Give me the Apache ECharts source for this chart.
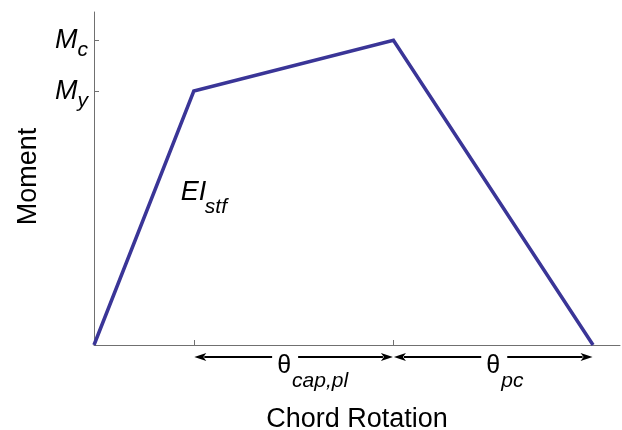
<!DOCTYPE html>
<html>
<head>
<meta charset="utf-8">
<script src="https://cdn.jsdelivr.net/npm/echarts@6/dist/echarts.min.js"></script>
<style>
html,body{margin:0;padding:0;background:#fff;}
#chart{width:622px;height:430px;}
</style>
</head>
<body>
<div id="chart"></div>
<script>
// Data (normalized units)
const rotationValues = [0, 1, 3, 5];          // chord rotation at key points
const momentValues   = [0, 1, 1.2, 0];        // moment at key points
const yTickValues    = [1, 1.2];              // My, Mc
const yTickSubs      = {1: 'y', 1.2: 'c'};
const xTickValues    = [1, 3];
const xAxisMax = 5.27;
const yAxisMax = 1.311;
// Annotations: [start, end, subscript]
const spanAnnotations = [
  [1, 3, 'cap,pl'],
  [3, 5, 'pc']
];
const stiffLabel = {x: 0.87, y: 0.60, main: 'EI', sub: 'stf'};

// Style / placement constants
const labelOffsets = [-9.5, 0];   // horizontal shift of the theta labels (px)
const FONT = '"Liberation Sans", Arial, Helvetica, sans-serif';
const LINE_COLOR = '#3a3597';
const AXIS_COLOR = '#707070';

const chart = echarts.init(document.getElementById('chart'), null, {renderer: 'canvas'});

const option = {
  animation: false,
  backgroundColor: '#ffffff',
  grid: {left: 94, right: 2, top: 12, bottom: 85, containLabel: false, outerBoundsMode: 'none'},
  xAxis: {
    type: 'value', min: 0, max: xAxisMax,
    name: 'Chord Rotation', nameLocation: 'middle', nameGap: 61,
    nameTextStyle: {fontFamily: FONT, fontSize: 27, color: '#000'},
    axisLine: {show: true, lineStyle: {color: AXIS_COLOR, width: 1}},
    axisTick: {show: true, inside: true, length: 5, customValues: xTickValues, lineStyle: {color: AXIS_COLOR}},
    axisLabel: {show: false},
    splitLine: {show: false}
  },
  yAxis: {
    type: 'value', min: 0, max: yAxisMax,
    name: 'Moment', nameLocation: 'middle', nameGap: 52, nameRotate: 90,
    nameTextStyle: {fontFamily: FONT, fontSize: 27, color: '#000', padding: [0, 0, 0, 4]},
    axisLine: {show: true, lineStyle: {color: AXIS_COLOR, width: 1}},
    axisTick: {show: true, inside: true, length: 5, customValues: yTickValues, lineStyle: {color: AXIS_COLOR}},
    axisLabel: {
      show: true, customValues: yTickValues, margin: 6,
      formatter: function (v) { return '{m|M}{s|' + yTickSubs[v] + '}'; },
      rich: {
        m: {fontFamily: FONT, fontSize: 27, fontStyle: 'italic', color: '#000', lineHeight: 27, verticalAlign: 'top', padding: [0, 0, 0, 0]},
        s: {fontFamily: FONT, fontSize: 21, fontStyle: 'italic', color: '#000', lineHeight: 21, verticalAlign: 'top', padding: [13, 0, 0, 0]}
      }
    },
    splitLine: {show: false}
  },
  series: [{
    type: 'line',
    data: rotationValues.map((x, i) => [x, momentValues[i]]),
    showSymbol: false,
    symbol: 'none',
    lineStyle: {color: LINE_COLOR, width: 3.5, join: 'miter'},
    clip: false
  }]
};
chart.setOption(option);

// Annotations placed through the chart's own coordinate conversion
function px(x, y) { return chart.convertToPixel({gridIndex: 0}, [x, y]); }
const graphics = [];
const arrowY = px(0, 0)[1] + 12;
spanAnnotations.forEach(([a, b, sub], idx) => {
  const xa = px(a, 0)[0], xb = px(b, 0)[0];
  const xm = (xa + xb) / 2 + labelOffsets[idx];
  const gapL = 12, gapR = 14;
  const head = 12, hw = 4;
  const ax = xa + 0.5, bx = xb - 0.5;
  // left shaft + head
  graphics.push({type: 'line', shape: {x1: ax + head - 2, y1: arrowY, x2: xm - gapL, y2: arrowY}, style: {stroke: '#000', lineWidth: 2}});
  graphics.push({type: 'polygon', shape: {points: [[ax, arrowY], [ax + head, arrowY - hw], [ax + head - 3, arrowY], [ax + head, arrowY + hw]]}, style: {fill: '#000'}});
  // right shaft + head
  graphics.push({type: 'line', shape: {x1: xm + gapR, y1: arrowY, x2: bx - head + 2, y2: arrowY}, style: {stroke: '#000', lineWidth: 2}});
  graphics.push({type: 'polygon', shape: {points: [[bx, arrowY], [bx - head, arrowY - hw], [bx - head + 3, arrowY], [bx - head, arrowY + hw]]}, style: {fill: '#000'}});
  // theta
  graphics.push({type: 'text', x: xm, y: arrowY + 9, style: {text: 'θ', font: '25px ' + FONT, fill: '#000', align: 'center', verticalAlign: 'middle'}});
  graphics.push({type: 'text', x: xm + 8, y: arrowY + 24, style: {text: sub, font: 'italic 21px ' + FONT, fill: '#000', align: 'left', verticalAlign: 'middle'}});
});
const sp = px(stiffLabel.x, stiffLabel.y);
graphics.push({type: 'text', x: sp[0], y: sp[1], style: {text: stiffLabel.main, font: 'italic 27px ' + FONT, fill: '#000', align: 'left', verticalAlign: 'middle'}});
graphics.push({type: 'text', x: sp[0] + 24, y: sp[1] + 15, style: {text: stiffLabel.sub, font: 'italic 21px ' + FONT, fill: '#000', align: 'left', verticalAlign: 'middle'}});
chart.setOption({graphic: graphics});
</script>
</body>
</html>
